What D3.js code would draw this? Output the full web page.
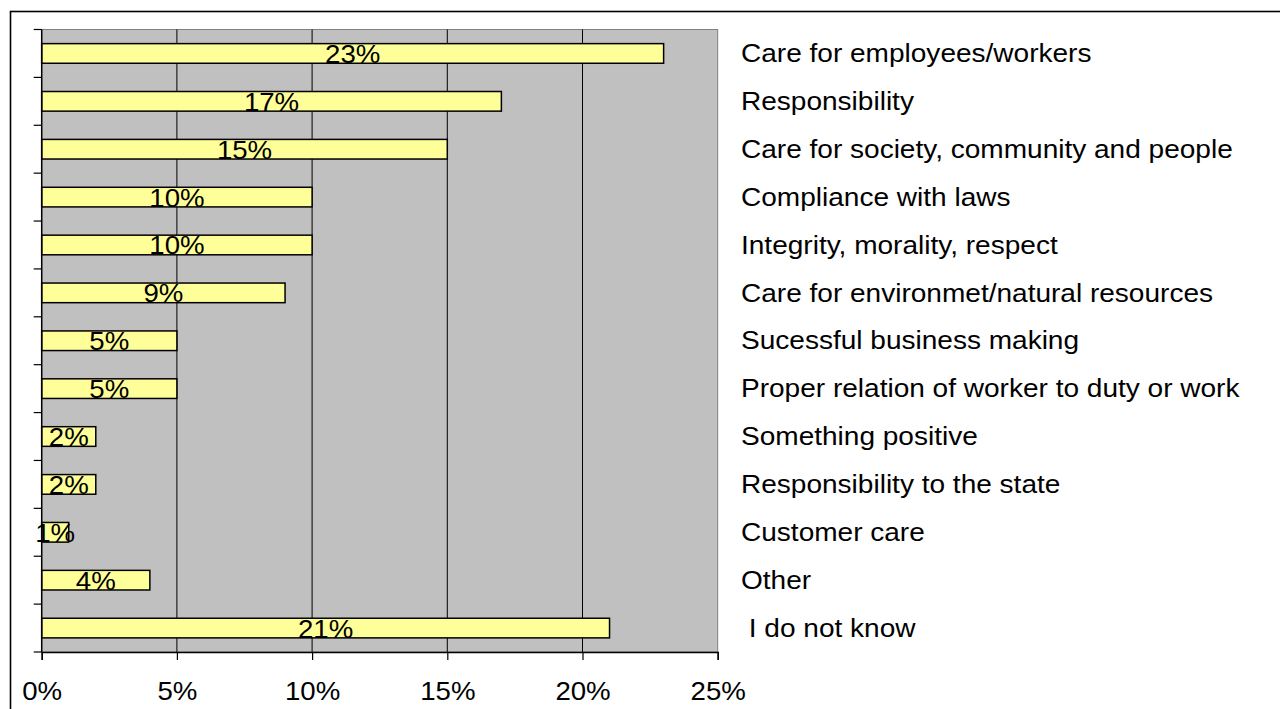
<!DOCTYPE html>
<html>
<head>
<meta charset="utf-8">
<script src="https://cdn.jsdelivr.net/npm/d3@7"></script>
<style>
  html, body { margin: 0; padding: 0; background: #fff; }
  svg { display: block; }
  text { font-family: "Liberation Sans", Arial, sans-serif; fill: #000; }
</style>
</head>
<body>
<svg id="chart" width="1280" height="709"></svg>
<script>
// Survey answers and their shares (percent)
const categories = [
  "Care for employees/workers",
  "Responsibility",
  "Care for society, community and people",
  "Compliance with laws",
  "Integrity, morality, respect",
  "Care for environmet/natural resources",
  "Sucessful business making",
  "Proper relation of worker to duty or work",
  "Something positive",
  "Responsibility to the state",
  "Customer care",
  "Other",
  " I do not know"
];
const values = [23, 17, 15, 10, 10, 9, 5, 5, 2, 2, 1, 4, 21];
const xTicks = [0, 5, 10, 15, 20, 25];

// Text is drawn slightly widened horizontally
const FONT = 25, STRETCH = 1.105, LABEL_STRETCH = 1.122;

const svg = d3.select("#chart");

// Outer chart frame (runs off the right and bottom edges)
svg.append("rect")
  .attr("x", 10.5).attr("y", 11.5)
  .attr("width", 1400).attr("height", 800)
  .attr("fill", "#fff")
  .attr("stroke", "#000").attr("stroke-width", 1.6);

const plot = { left: 41.7, right: 717.7, top: 29.5, bottom: 652 };

const x = d3.scaleLinear().domain([0, 25]).range([plot.left, plot.right]);
const y = d3.scaleBand().domain(categories).range([plot.top, plot.bottom])
  .paddingInner(0.59).paddingOuter(0.295);

// Plot area background
svg.append("rect")
  .attr("x", plot.left).attr("y", plot.top)
  .attr("width", plot.right - plot.left).attr("height", plot.bottom - plot.top)
  .attr("fill", "#c0c0c0")
  .attr("stroke", "#808080").attr("stroke-width", 1);

// Vertical gridlines
svg.append("g").selectAll("line")
  .data(xTicks.filter(d => d > 0 && d < 25))
  .join("line")
  .attr("x1", d => x(d)).attr("x2", d => x(d))
  .attr("y1", plot.top).attr("y2", plot.bottom)
  .attr("stroke", "#000").attr("stroke-width", 1);

// Bars
svg.append("g").selectAll("rect")
  .data(values)
  .join("rect")
  .attr("x", x(0))
  .attr("y", (d, i) => y(categories[i]))
  .attr("width", d => x(d) - x(0))
  .attr("height", y.bandwidth())
  .attr("fill", "#ffff99")
  .attr("stroke", "#000").attr("stroke-width", 1.5);

// Value labels centred on each bar
svg.append("g").selectAll("text")
  .data(values)
  .join("text")
  .attr("transform", (d, i) =>
    `translate(${(x(0) + x(d)) / 2},${y(categories[i]) + y.bandwidth() / 2 + 9.5}) scale(${STRETCH},1)`)
  .attr("text-anchor", "middle")
  .attr("font-size", FONT)
  .text(d => d + "%");

// Category labels to the right of the plot
svg.append("g").selectAll("text")
  .data(categories)
  .join("text")
  .attr("transform", d =>
    `translate(741,${y(d) + y.bandwidth() / 2 + 8.7}) scale(${LABEL_STRETCH},1)`)
  .attr("font-size", FONT)
  .attr("xml:space", "preserve")
  .style("white-space", "pre")
  .text(d => d);

// Y axis: line with ticks at band boundaries
const yAxis = svg.append("g");
yAxis.append("line")
  .attr("x1", plot.left).attr("x2", plot.left)
  .attr("y1", plot.top).attr("y2", plot.bottom)
  .attr("stroke", "#000").attr("stroke-width", 1.5);
const step = y.step();
yAxis.selectAll("line.tick")
  .data(d3.range(categories.length + 1))
  .join("line").attr("class", "tick")
  .attr("x1", plot.left - 8).attr("x2", plot.left)
  .attr("y1", i => plot.top + i * step).attr("y2", i => plot.top + i * step)
  .attr("stroke", "#000").attr("stroke-width", 1.2);

// X axis
const xAxis = d3.axisBottom(x)
  .tickValues(xTicks)
  .tickSize(8)
  .tickFormat(d => d + "%");
const gx = svg.append("g")
  .attr("transform", `translate(0,${plot.bottom})`)
  .call(xAxis);
gx.select(".domain").attr("stroke", "#000").attr("stroke-width", 1.5);
gx.selectAll(".tick line").attr("stroke", "#000").attr("stroke-width", 1.2);
gx.selectAll(".tick text")
  .attr("font-family", "Liberation Sans, Arial, sans-serif")
  .attr("font-size", FONT)
  .attr("fill", "#000")
  .attr("dy", null)
  .attr("y", null)
  .attr("transform", `translate(0,48) scale(${STRETCH},1)`);
</script>
</body>
</html>
